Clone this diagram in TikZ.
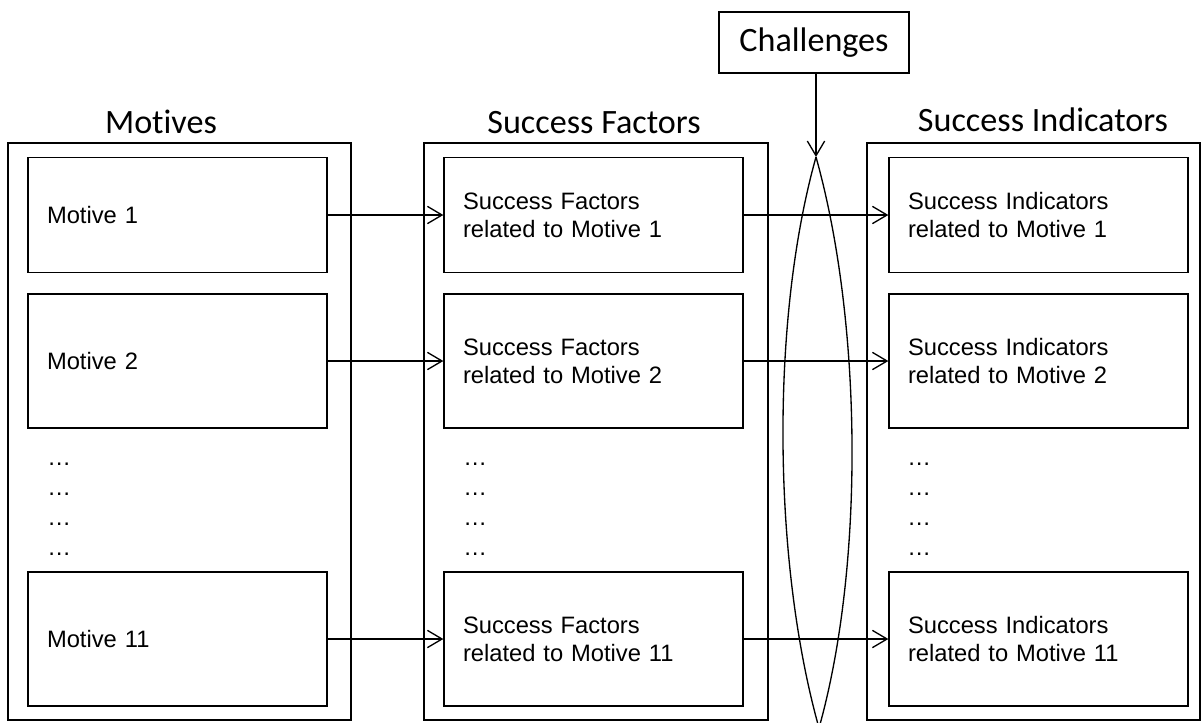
\documentclass[tikz,border=0pt]{standalone}
\usepackage{fontspec}
\setmainfont{Liberation Sans}
\newfontfamily\titlefont[Ligatures=NoCommon]{Carlito}
\usetikzlibrary{shapes.geometric,arrows.meta}
\begin{document}
\begin{tikzpicture}[x=0.75pt,y=-0.75pt,
  box/.style={draw, line width=1pt, inner sep=0pt, anchor=center},
  outerbox/.style={box, minimum height=432.75pt},
  inbox/.style={box, minimum height=#1, text width=195.75pt, inner xsep=14.25pt, inner ysep=0pt, align=left, font=\fontsize{17.8}{21}\selectfont},
  title/.style={anchor=base, inner sep=0pt, font=\titlefont\fontsize{25.6}{30}\selectfont},
  dotlabel/.style={anchor=base west, inner sep=0pt, font=\fontsize{17.8}{21}\selectfont},
  lens/.style={draw, line width=1pt},
  arr/.style={-{Straight Barb[length=11pt,width=13pt]}, line width=1pt}]
\useasboundingbox (0,0) rectangle (1204,722);
% titles
\node[title] (tm) at (161,133) {Motives};
\node[title] (tf) at (594,133) {Success Factors};
\node[title] (ti) at (1043,131) {Success Indicators};
% outer boxes
\node[outerbox, minimum width=257.25pt] (om) at (179.5,431.5) {};
\node[outerbox, minimum width=258pt] (of) at (596,431.5) {};
\node[outerbox, minimum width=249.75pt] (oi) at (1033.5,431.5) {};
% inner boxes
\node[inbox=86.25pt] (m1) at (177.5,215) {Motive 1};
\node[inbox=100.5pt] (m2) at (177.5,361) {Motive 2};
\node[inbox=100.5pt] (m3) at (177.5,639) {Motive 11};
\node[inbox=86.25pt] (f1) at (593.5,215) {Success Factors\\related to Motive 1};
\node[inbox=100.5pt] (f2) at (593.5,361) {Success Factors\\related to Motive 2};
\node[inbox=100.5pt] (f3) at (593.5,639) {Success Factors\\related to Motive 11};
\node[inbox=86.25pt] (i1) at (1038.5,215) {Success Indicators\\related to Motive 1};
\node[inbox=100.5pt] (i2) at (1038.5,361) {Success Indicators\\related to Motive 2};
\node[inbox=100.5pt] (i3) at (1038.5,639) {Success Indicators\\related to Motive 11};
% dots
\foreach \y [count=\k] in {465,495,525,555}{
  \node[dotlabel] (dm\k) at (47,\y) {…};
  \node[dotlabel] (df\k) at (463,\y) {…};
  \node[dotlabel] (di\k) at (907,\y) {…};
}
% lens and challenges
\coordinate (ltop) at (816,157);
\coordinate (lbot) at (819,728);
\draw[lens] (ltop) .. controls (862,321) and (865,564) .. (lbot)
             .. controls (773,564) and (770,321) .. (ltop);
\node[box, minimum width=142.5pt, minimum height=45.75pt, font=\titlefont\fontsize{25.6}{30}\selectfont] (chal) at (814,42.5) {Challenges};
\draw[arr] (chal.south -| ltop) -- (ltop);
% arrows
\draw[arr] (m1.east) -- (f1.west);
\draw[arr] (m2.east) -- (f2.west);
\draw[arr] (m3.east) -- (f3.west);
\draw[arr] (f1.east) -- (i1.west);
\draw[arr] (f2.east) -- (i2.west);
\draw[arr] (f3.east) -- (i3.west);
\end{tikzpicture}
\end{document}
